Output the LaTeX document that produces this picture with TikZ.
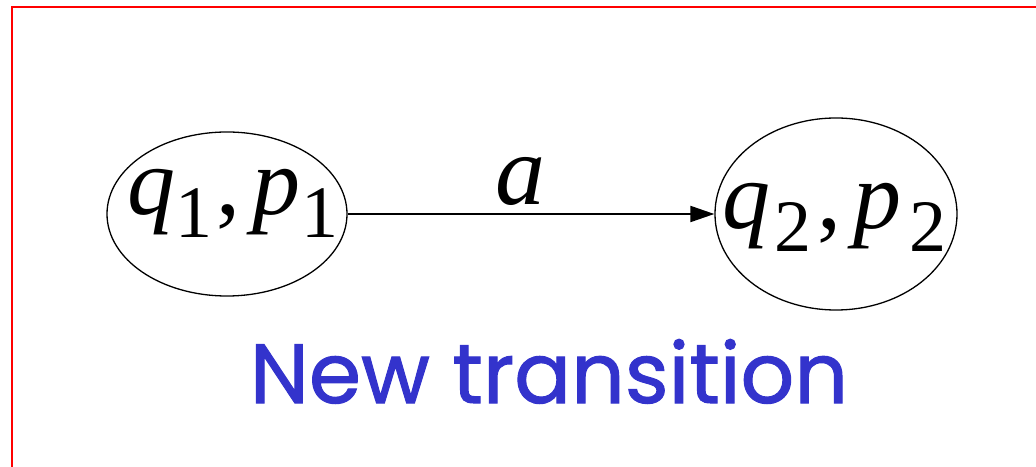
\documentclass[tikz,border=0pt]{standalone}
\usepackage{fontspec}
\usetikzlibrary{shapes.geometric,arrows.meta}
\newfontfamily\tnr{Liberation Serif}
\newfontfamily\comic[FakeBold=1.2]{Poppins}
\definecolor{frame}{HTML}{FF0000}
\definecolor{capblue}{HTML}{3333CC}
\newcommand{\itvar}[1]{{\itshape #1}}
\newcommand{\subs}[1]{\raisebox{-23pt}{\upshape\fontsize{74}{74}\selectfont #1}}
\tikzset{
  state/.style={draw, ellipse, line width=1.3pt, inner sep=0pt},
  statetext/.style={anchor=base west, inner sep=0pt, font=\tnr\fontsize{96}{96}\selectfont},
  trans/.style={line width=2pt, -{Triangle[length=24pt,width=16pt]}},
}
\begin{document}
\begin{tikzpicture}[x=1pt,y=1pt]
\useasboundingbox (0,0) rectangle (1036,466);
\draw[frame, line width=2.2pt] (12,-2) -- (12,459) -- (1040,459);
\node[state, minimum width=240pt, minimum height=164pt] (s1) at (227,252) {};
\node[state, minimum width=242pt, minimum height=192pt] (s2) at (836,252) {};
\node[statetext] (t1) at (127,251)
  {\itvar{q}\subs{1}\hspace{4pt}\upshape,\hspace{12pt}\itvar{p}\hspace{1pt}\subs{1}};
\node[statetext] (t2) at (722,237)
  {\itvar{q}\hspace{4pt}\subs{2}\hspace{6pt}\upshape,\hspace{12pt}\itvar{p}\hspace{8pt}\subs{2}};
\draw[trans] (s1.east) -- (s2.west);
\node[anchor=base, font=\tnr\fontsize{100}{100}\selectfont\itshape, inner sep=0pt] (lab) at (520,261) {a};
\node[anchor=base, font=\comic\fontsize{84}{84}\selectfont, text=capblue, inner sep=0pt] (cap) at (549,63) {New transition};
\end{tikzpicture}
\end{document}
